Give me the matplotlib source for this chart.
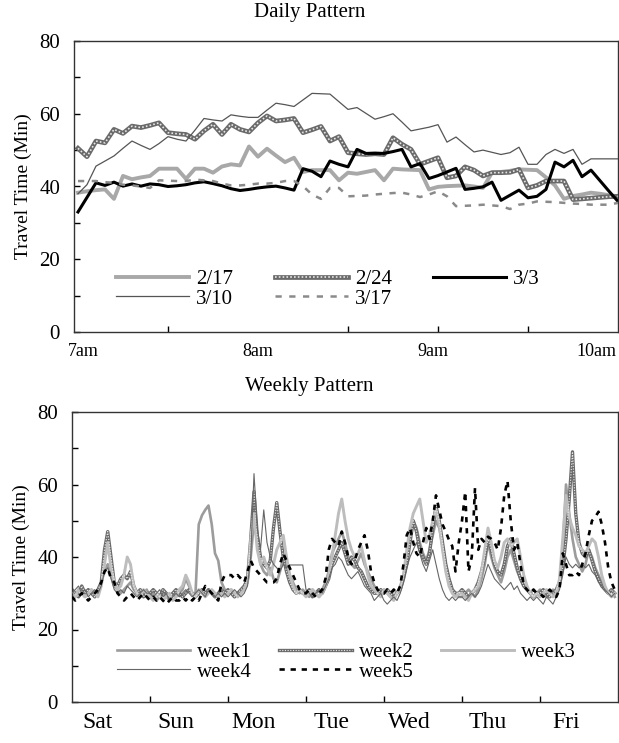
import numpy as np
import matplotlib
matplotlib.use("Agg")
import matplotlib.pyplot as plt
from matplotlib.legend_handler import HandlerTuple

plt.rcParams['font.family'] = ['Liberation Serif', 'DejaVu Serif']

# ---------------- Daily pattern (3-minute samples from 7:00 to 10:00) ----------------
daily_labels = ['2/17', '2/24', '3/3', '3/10', '3/17']
d_0217 = [38.3, 38.7, 39.0, 39.2, 36.6, 42.9, 42.0, 42.5, 42.9, 44.9, 44.9, 44.9, 42.1, 44.9, 44.9, 43.8,
          45.5, 46.1, 45.8, 51.0, 48.2, 50.4, 48.5, 46.7, 47.9, 44.0, 44.5, 44.5, 44.5, 41.7, 43.8, 43.5,
          44.0, 44.5, 41.7, 44.9, 44.7, 44.6, 44.5, 39.2, 39.9, 40.1, 40.2, 40.3, 40.0, 39.6, 43.8, 44.0,
          44.3, 44.7, 44.6, 44.5, 42.5, 40.3, 36.6, 37.4, 37.8, 38.3, 38.0, 37.6, 37.3]
d_0224 = [50.5, 48.2, 52.5, 52.0, 55.7, 54.6, 56.6, 56.2, 56.8, 57.5, 54.8, 54.5, 54.3, 53.0, 55.3, 57.1,
          54.3, 57.1, 55.7, 55.0, 57.5, 59.4, 58.0, 58.3, 58.7, 54.8, 55.6, 56.5, 52.5, 53.7, 49.3, 49.0,
          48.8, 49.0, 48.8, 53.4, 51.6, 50.2, 46.1, 47.0, 47.9, 42.4, 42.9, 45.4, 44.5, 42.9, 43.8, 43.8,
          43.9, 44.7, 39.6, 40.3, 41.5, 41.5, 41.5, 36.4, 36.6, 36.8, 37.0, 37.2, 37.3]
d_0303 = [33.0, 37.0, 41.0, 40.3, 41.2, 40.1, 40.7, 40.1, 40.7, 40.5, 40.0, 40.2, 40.5, 41.0, 41.3, 40.8,
          40.2, 39.4, 38.9, 39.2, 39.6, 39.9, 40.1, 39.6, 39.0, 44.9, 44.2, 42.7, 47.0, 46.1, 45.4, 50.2,
          49.1, 49.1, 49.1, 49.6, 50.2, 45.4, 46.3, 42.2, 43.0, 44.0, 45.0, 39.2, 39.5, 39.9, 41.2, 36.2,
          37.6, 39.0, 36.9, 37.3, 39.2, 46.7, 45.4, 47.2, 42.7, 44.5, 41.6, 38.7, 35.9]
d_0310 = [38.0, 40.5, 45.6, 47.0, 48.4, 50.5, 52.5, 51.3, 50.2, 51.8, 53.7, 53.0, 52.5, 55.5, 58.7, 58.3,
          58.0, 59.7, 59.3, 59.0, 59.0, 61.0, 62.9, 62.5, 62.0, 63.8, 65.6, 65.5, 65.4, 63.3, 61.2, 61.7,
          60.1, 58.5, 59.2, 60.0, 57.7, 55.3, 55.8, 56.3, 57.0, 52.2, 53.6, 51.5, 49.5, 50.0, 49.4, 48.8,
          49.3, 50.8, 46.1, 46.1, 48.8, 50.2, 49.1, 50.2, 46.1, 47.6, 47.6, 47.6, 47.6]
d_0317 = [41.5, 41.5, 41.5, 41.2, 41.0, 40.5, 40.3, 40.0, 39.6, 41.7, 41.6, 41.5, 41.5, 41.9, 41.7, 41.5,
          40.8, 40.3, 40.3, 40.5, 40.8, 40.8, 41.0, 41.5, 41.5, 40.1, 37.8, 36.6, 39.6, 39.6, 37.3, 37.4,
          37.5, 37.8, 38.0, 38.2, 38.3, 37.8, 37.1, 37.8, 38.7, 37.3, 34.6, 34.7, 34.8, 35.0, 34.8, 34.6,
          33.8, 35.0, 35.3, 35.9, 35.8, 35.7, 35.5, 35.3, 35.2, 35.0, 35.0, 35.0, 35.5]
daily_minutes = np.arange(61) * 3          # minutes after 7:00
daily_tick_labels = ['7am', '8am', '9am', '10am']

# ---------------- Weekly pattern (hourly, Sat..Fri) ----------------
weekly_labels = ['week1', 'week2', 'week3', 'week4', 'week5']
day_labels = ['Sat', 'Sun', 'Mon', 'Tue', 'Wed', 'Thu', 'Fri']
w1 = [30, 29, 31, 30, 29, 30, 31, 30, 31, 33, 36, 38, 35, 32, 31, 30, 31, 32, 33, 31, 30, 29, 30, 31,
      29, 30, 28, 29, 30, 29, 28, 30, 29, 30, 31, 34, 32, 30, 30, 49, 51.5, 53, 54.2, 49, 41, 39, 33, 31,
      30, 31, 29, 30, 31, 32, 33, 40, 50, 44, 38, 36, 35, 37, 34, 33, 36, 40, 38, 35, 33, 31, 30, 31,
      30, 29, 31, 30, 29, 31, 33, 36, 41, 43, 45, 47, 44, 40, 38, 37, 39, 41, 38, 36, 34, 32, 31, 30,
      31, 30, 29, 31, 30, 32, 35, 40, 46, 50, 48, 44, 41, 39, 42, 46, 50, 48, 43, 38, 34, 31, 30, 29,
      29, 30, 31, 30, 29, 31, 34, 38, 44, 40, 37, 35, 33, 36, 40, 42, 39, 36, 34, 32, 31, 30, 31, 30,
      31, 30, 29, 30, 31, 30, 33, 42, 60, 52, 45, 40, 38, 36, 38, 42, 40, 37, 35, 33, 31, 30, 31, 29]
w2 = [31, 30, 29, 32, 30, 31, 30, 29, 31, 33, 42, 47, 40, 33, 32, 34, 35, 34, 36, 32, 30, 31, 29, 30,
      30, 31, 30, 29, 31, 30, 29, 30, 31, 30, 29, 30, 31, 30, 29, 30, 31, 30, 31, 30, 29, 30, 31, 30,
      31, 30, 29, 30, 31, 32, 34, 45, 58, 46, 40, 38, 37, 39, 48, 55, 47, 40, 36, 33, 31, 30, 31, 30,
      30, 31, 29, 30, 31, 30, 32, 34, 38, 40, 42, 44, 41, 38, 40, 39, 37, 36, 34, 32, 31, 30, 30, 31,
      30, 31, 30, 29, 30, 31, 34, 38, 44, 50, 47, 42, 40, 38, 41, 48, 54, 50, 44, 38, 34, 31, 30, 30,
      31, 30, 29, 30, 31, 33, 36, 40, 45, 42, 38, 36, 35, 38, 43, 45, 41, 37, 34, 32, 31, 30, 29, 30,
      30, 31, 30, 29, 30, 31, 33, 37, 45, 56, 69, 52, 44, 41, 40, 42, 39, 36, 34, 32, 31, 30, 31, 30]
w3 = [30, 29, 31, 30, 29, 30, 31, 30, 29, 32, 38, 44, 37, 33, 31, 32, 35, 40, 38, 32, 30, 29, 31, 30,
      29, 28, 30, 29, 28, 29, 30, 28, 29, 31, 32, 35, 33, 30, 29, 31, 30, 29, 30, 31, 30, 29, 30, 29,
      30, 31, 30, 29, 30, 31, 33, 45, 52, 42, 38, 40, 37, 35, 38, 42, 44, 46, 40, 35, 32, 30, 31, 30,
      29, 30, 31, 30, 29, 30, 32, 35, 40, 46, 52, 56, 50, 45, 42, 40, 41, 43, 39, 35, 32, 31, 30, 29,
      31, 30, 29, 28, 30, 31, 35, 42, 48, 52, 54, 56, 50, 44, 46, 50, 53, 49, 42, 36, 32, 30, 29, 30,
      30, 29, 28, 30, 31, 32, 36, 42, 48, 44, 39, 37, 40, 44, 45, 43, 44, 45, 40, 35, 32, 30, 29, 30,
      29, 30, 31, 30, 29, 30, 34, 45, 57, 51, 48, 46, 43, 42, 41, 43, 45, 44, 40, 35, 32, 30, 29, 30]
w4 = [30, 31, 32, 30, 31, 29, 30, 31, 30, 32, 36, 37, 34, 31, 30, 31, 30, 32, 31, 30, 29, 30, 31, 30,
      30, 29, 30, 31, 29, 30, 28, 29, 30, 29, 30, 31, 30, 29, 30, 31, 30, 29, 31, 30, 29, 30, 29, 30,
      29, 30, 31, 30, 29, 30, 32, 40, 63, 48, 42, 53, 44, 40, 38, 37, 36, 38, 37, 37.8, 37.8, 37.8, 37.8, 37.8,
      31, 30, 29, 30, 31, 30, 32, 34, 37, 38, 40, 39, 37, 35, 34, 35, 36, 34, 32, 31, 30, 28, 29, 30,
      28, 27, 28, 29, 28, 30, 33, 37, 40, 42, 44, 41, 38, 36, 39, 42, 38, 34, 31, 29, 28, 29, 28, 29,
      29, 28, 29, 30, 29, 30, 32, 35, 38, 36, 34, 33, 32, 31, 32, 33, 31, 32, 30, 29, 28, 29, 28, 29,
      28, 27, 29, 28, 27, 29, 31, 35, 40, 38, 37, 38, 37, 38, 37, 38, 36, 35, 33, 32, 31, 30, 29, 30]
w5 = [29, 28, 29, 30, 29, 28, 29, 30, 31, 33, 36, 37, 34, 33, 30, 29, 28, 29, 30, 29, 28, 29, 30, 29,
      28, 29, 28, 29, 28, 27, 28, 29, 28, 28, 29, 28, 29, 28, 29, 28, 30, 32, 31, 30, 29, 28, 33, 35,
      35, 35, 34, 35, 34, 33, 36, 39, 37, 36, 35, 34, 33, 33, 33, 34, 38, 41, 39, 37, 35, 33, 31, 30,
      30, 31, 30, 29, 30, 31, 34, 42, 45, 44, 43, 47, 44, 40, 38, 39, 42, 44, 46, 42, 36, 33, 31, 30,
      30, 31, 30, 31, 30, 32, 38, 46, 48, 44, 41, 40, 44, 48, 45, 50, 57, 53, 49, 47, 44.7, 43, 36, 44,
      50, 58, 36, 40, 59, 42, 45, 44, 45.6, 45, 44, 42, 48, 57, 61, 50, 42, 44, 38, 32, 31, 30, 31, 30,
      30, 29, 30, 31, 30, 29, 31, 41, 38, 35, 35, 36, 35, 38, 41, 46, 50, 51, 52.5, 49, 44, 37, 33, 31]
weekly_days = np.arange(168) / 24.0

fig = plt.figure(figsize=(6.19, 7.43), dpi=100)
ax1 = fig.add_axes([74 / 619, 1 - 332 / 743, 544 / 619, 291 / 743])
ax2 = fig.add_axes([72 / 619, 1 - 702 / 743, 546 / 619, 290 / 743])

DARK = '#6a6a6a'


def hatched(ax, x, y, lw=3.4):
    a, = ax.plot(x, y, color=DARK, lw=lw, zorder=2)
    b, = ax.plot(x, y, color='#e8e8e8', lw=lw * 0.35, linestyle=(0, (1, 1.3)), zorder=2.1)
    return (a, b)


LEG = dict(frameon=False, fontsize=15, handlelength=3.5, handletextpad=0.33,
           labelspacing=0.0, borderpad=0, borderaxespad=0, ncol=3, loc='upper left',
           handler_map={tuple: HandlerTuple(ndivide=1, pad=0)})

# ---- top chart
h17, = ax1.plot(daily_minutes, d_0217, color='#a8a8a8', lw=2.8, zorder=2)
h24 = hatched(ax1, daily_minutes, d_0224)
h33, = ax1.plot(daily_minutes, d_0303, color='black', lw=2.2, zorder=3)
h310, = ax1.plot(daily_minutes, d_0310, color='#555555', lw=0.9, zorder=3)
h317, = ax1.plot(daily_minutes, d_0317, color='#8a8a8a', lw=1.8, linestyle=(0, (2.5, 3)), zorder=3)

ax1.set_xlim(-1.33, 180)
ax1.set_ylim(0, 80)
ax1.set_xticks([30, 60, 90, 120, 150], minor=True)
ax1.set_xticks([1.7, 60, 118.3, 172.8])
ax1.set_xticklabels(daily_tick_labels)
ax1.tick_params(axis='x', which='major', length=0, pad=8, labelsize=13)
ax1.tick_params(axis='x', which='minor', direction='in', length=4, width=1)
ax1.set_yticks([0, 20, 40, 60, 80])
ax1.set_yticks(np.arange(0, 81, 10), minor=True)
ax1.tick_params(axis='y', which='both', direction='in', length=4, width=1, labelsize=15, pad=10)
ax1.set_ylabel('Travel Time (Min)', fontsize=14, labelpad=5)
ax1.legend([h17, h310, h24, h317, h33],
           ['2/17', '3/10', '2/24', '3/17', '3/3'],
           bbox_to_anchor=(0.078, 0.215), columnspacing=2.0, **LEG)

# ---- bottom chart
hw1, = ax2.plot(weekly_days, w1, color='#9c9c9c', lw=1.9, zorder=2)
hw2 = hatched(ax2, weekly_days, w2, lw=2.4)
hw3, = ax2.plot(weekly_days, w3, color='#bdbdbd', lw=2.1, zorder=2)
hw4, = ax2.plot(weekly_days, w4, color='#666666', lw=0.8, zorder=3)
hw5, = ax2.plot(weekly_days, w5, color='black', lw=1.9, linestyle=(0, (2, 2.2)), zorder=3)

ax2.set_xlim(0, 7)
ax2.set_ylim(0, 80)
ax2.set_xticks(np.arange(1, 7), minor=True)
ax2.set_xticks(np.arange(7) + 0.33)
ax2.set_xticklabels(day_labels)
ax2.tick_params(axis='x', which='major', length=0, pad=7, labelsize=17)
ax2.tick_params(axis='x', which='minor', direction='in', length=4, width=1)
ax2.set_yticks([0, 20, 40, 60, 80])
ax2.set_yticks(np.arange(0, 81, 10), minor=True)
ax2.tick_params(axis='y', which='both', direction='in', length=4, width=1, labelsize=15, pad=10)
ax2.set_ylabel('Travel Time (Min)', fontsize=14, labelpad=5)
ax2.legend([hw1, hw4, hw2, hw5, hw3],
           ['week1', 'week4', 'week2', 'week5', 'week3'],
           bbox_to_anchor=(0.083, 0.205), columnspacing=1.3, **LEG)

for ax in (ax1, ax2):
    for s in ax.spines.values():
        s.set_linewidth(1.0)
        s.set_color('#333333')

fig.text(0.5, 1 - 12 / 743, 'Daily Pattern', ha='center', va='center', fontsize=15)
fig.text(0.5, 1 - 386 / 743, 'Weekly Pattern', ha='center', va='center', fontsize=15)

fig.savefig('out.png', dpi=100)
